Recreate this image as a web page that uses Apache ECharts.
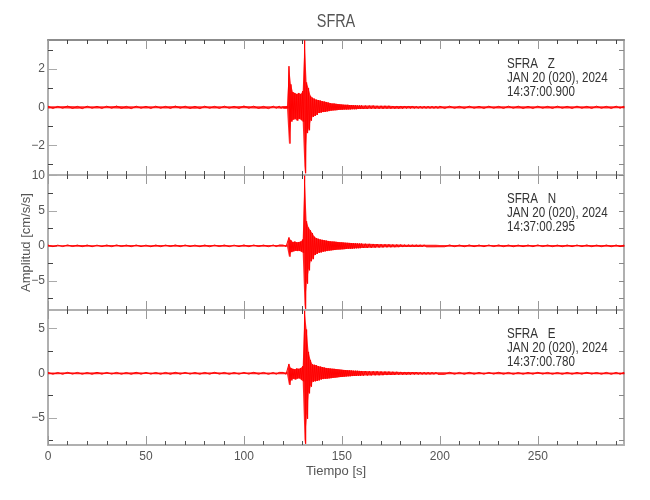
<!DOCTYPE html>
<html><head><meta charset="utf-8">
<script src="https://cdn.jsdelivr.net/npm/echarts@6/dist/echarts.min.js"></script>
<style>html,body{margin:0;padding:0;background:#fff}#c{width:650px;height:500px}</style>
</head><body><div id="c"></div>
<script>
// time knots (s)
const times = [0,5,10,15,20,25,30,35,40,45,50,55,60,65,70,75,80,85,90,95,100,105,110,115,118,
120,121,122,123,124,125,126,127,128,129,130,131,132,133,134,135,136,137,138,139,140,
141,142,143,144,145,146,147,148,149,150,151,152,153,154,155,156,157,158,159,160,
162,164,166,168,170,172,174,176,178,180,182,184,186,188,190,192,194,196,198,200,
205,210,215,220,225,230,235,240,245,250,255,260,265,270,275,280,285,290,294];

// Z component envelope (upper / lower peaks)
const zHi = [0.06,0.05,0.07,0.05,0.06,0.05,0.06,0.07,0.05,0.06,0.05,0.06,0.05,0.07,0.06,0.05,0.06,0.05,0.06,0.05,0.07,0.06,0.05,0.06,
0.06,
0.05,0.06,0.07,
2.15,1.2,0.8,0.75,0.7,0.75,0.7,0.85,
3.5,1.3,1.0,0.6,0.5,0.45,0.4,0.38,0.35,0.32,
0.3,0.28,0.25,0.22,0.2,0.2,0.18,0.17,0.16,0.15,
0.14,0.13,0.13,0.12,0.12,0.11,0.11,0.1,0.1,0.1,
0.09,0.09,0.09,0.08,0.08,0.08,0.08,0.07,0.07,0.07,0.07,0.07,0.07,0.06,0.06,0.06,0.06,0.06,0.06,0.06,
0.06,0.05,0.06,0.05,0.06,0.05,0.06,0.06,0.05,0.06,0.05,0.06,0.05,0.06,0.05,0.06,0.05,0.06,
0.06];
const zLo = [-0.06,-0.05,-0.06,-0.07,-0.05,-0.06,-0.05,-0.06,-0.07,-0.05,-0.06,-0.05,-0.06,-0.05,-0.06,-0.07,-0.05,-0.06,-0.05,-0.06,-0.05,-0.06,-0.07,-0.05,
-0.06,
-0.06,-0.07,-0.06,
-1.9,-0.75,-0.65,-0.6,-0.7,-0.6,-0.65,-0.75,
-3.45,-1.35,-1.2,-0.7,-0.5,-0.45,-0.4,-0.3,-0.28,-0.25,
-0.24,-0.22,-0.2,-0.18,-0.17,-0.16,-0.15,-0.14,-0.13,-0.13,
-0.12,-0.12,-0.11,-0.11,-0.1,-0.1,-0.1,-0.09,-0.09,-0.09,
-0.09,-0.08,-0.08,-0.08,-0.08,-0.07,-0.07,-0.07,-0.07,-0.07,-0.06,-0.06,-0.06,-0.06,-0.06,-0.06,-0.06,-0.06,-0.06,-0.06,
-0.05,-0.06,-0.05,-0.06,-0.05,-0.06,-0.05,-0.06,-0.06,-0.05,-0.06,-0.05,-0.06,-0.05,-0.06,-0.05,-0.06,-0.05,
-0.05];

// N component envelope
const nHi = [0.12,0.1,0.13,0.11,0.12,0.1,0.12,0.13,0.11,0.12,0.1,0.12,0.11,0.13,0.12,0.1,0.12,0.11,0.12,0.1,0.13,0.12,0.11,0.12,
0.12,
0.11,0.12,0.13,
1.2,0.8,0.55,0.6,0.5,0.55,0.6,0.9,
10.0,3.5,2.6,2.2,1.8,1.3,1.1,1.0,0.9,0.85,
0.8,0.75,0.7,0.65,0.62,0.6,0.57,0.55,0.52,0.5,
0.47,0.45,0.43,0.42,0.4,0.38,0.36,0.35,0.33,0.32,
0.3,0.28,0.27,0.25,0.24,0.22,0.21,0.2,0.19,0.18,0.17,0.17,0.16,0.16,0.15,0.15,0.14,0.14,0.14,0.13,
0.13,0.12,0.13,0.12,0.12,0.13,0.12,0.11,0.12,0.13,0.12,0.11,0.12,0.12,0.13,0.11,0.12,0.12,
0.12];
const nLo = [-0.12,-0.11,-0.1,-0.12,-0.13,-0.11,-0.12,-0.1,-0.12,-0.11,-0.13,-0.12,-0.1,-0.12,-0.11,-0.12,-0.13,-0.1,-0.12,-0.11,-0.12,-0.1,-0.12,-0.11,
-0.12,
-0.12,-0.11,-0.13,
-1.55,-0.9,-0.8,-0.7,-0.75,-0.7,-0.8,-1.0,
-9.0,-5.4,-3.5,-2.2,-1.9,-1.3,-1.15,-1.0,-0.95,-0.85,
-0.8,-0.75,-0.7,-0.66,-0.62,-0.6,-0.56,-0.54,-0.52,-0.5,
-0.47,-0.45,-0.43,-0.41,-0.4,-0.38,-0.36,-0.34,-0.33,-0.31,
-0.3,-0.28,-0.26,-0.25,-0.23,-0.22,-0.21,-0.2,-0.19,-0.18,-0.17,-0.17,-0.16,-0.15,-0.15,-0.14,-0.14,-0.14,-0.13,-0.13,
-0.12,-0.13,-0.12,-0.12,-0.11,-0.12,-0.13,-0.12,-0.12,-0.11,-0.12,-0.13,-0.12,-0.11,-0.12,-0.12,-0.13,-0.12,
-0.12];

// E component envelope
const eHi = [0.1,0.09,0.11,0.1,0.09,0.11,0.1,0.1,0.09,0.11,0.1,0.09,0.1,0.11,0.1,0.09,0.1,0.11,0.1,0.09,0.1,0.11,0.1,0.09,
0.1,
0.1,0.11,0.1,
1.05,0.6,0.5,0.45,0.55,0.5,0.6,0.8,
7.0,4.9,2.4,1.5,1.0,0.95,0.9,0.8,0.75,0.7,
0.65,0.6,0.58,0.55,0.52,0.5,0.47,0.45,0.42,0.4,
0.38,0.36,0.34,0.33,0.32,0.3,0.29,0.28,0.27,0.26,
0.25,0.24,0.23,0.22,0.21,0.2,0.19,0.18,0.17,0.16,0.15,0.15,0.14,0.14,0.13,0.13,0.12,0.12,0.12,0.11,
0.11,0.1,0.11,0.1,0.1,0.11,0.1,0.09,0.1,0.11,0.1,0.09,0.1,0.1,0.11,0.09,0.1,0.1,
0.1];
const eLo = [-0.1,-0.11,-0.09,-0.1,-0.11,-0.1,-0.09,-0.1,-0.11,-0.1,-0.09,-0.1,-0.11,-0.1,-0.09,-0.1,-0.1,-0.09,-0.11,-0.1,-0.09,-0.1,-0.11,-0.1,
-0.1,
-0.11,-0.1,-0.11,
-1.3,-0.8,-0.6,-0.7,-0.6,-0.55,-0.7,-0.9,
-7.9,-5.1,-2.25,-1.5,-0.95,-0.9,-0.85,-0.8,-0.7,-0.65,
-0.62,-0.6,-0.57,-0.55,-0.52,-0.5,-0.47,-0.44,-0.42,-0.4,
-0.38,-0.36,-0.34,-0.33,-0.31,-0.3,-0.29,-0.28,-0.27,-0.26,
-0.25,-0.24,-0.23,-0.22,-0.21,-0.2,-0.19,-0.18,-0.17,-0.16,-0.15,-0.15,-0.14,-0.14,-0.13,-0.13,-0.12,-0.12,-0.11,-0.11,
-0.1,-0.11,-0.1,-0.1,-0.09,-0.1,-0.11,-0.1,-0.1,-0.09,-0.1,-0.11,-0.1,-0.1,-0.09,-0.1,-0.11,-0.1,
-0.1];

const xMajor = [0,50,100,150,200,250];
const xMinor = [10,20,30,40,60,70,80,90,110,120,130,140,160,170,180,190,210,220,230,240,260,270,280,290];
const xRange = [0,294];
const yRanges = [[-3.54,3.52],[-9.15,10.1],[-8.03,7.09]];
const yMajor = [[-2,0,2],[-5,0,5,10],[-5,0,5]];
const yMinor = [[-3,-1,1,3],[-7.5,-2.5,2.5,7.5],[-7.5,-2.5,2.5]];
const yAll = [[-3,-2,-1,0,1,2,3],[-7.5,-5,-2.5,0,2.5,5,7.5,10],[-7.5,-5,-2.5,0,2.5,5]];
const chans = ['SFRA   Z','SFRA   N','SFRA   E'];
const dateText = 'JAN 20 (020), 2024';
const startTimes = ['14:37:00.900','14:37:00.295','14:37:00.780'];
const his = [zHi, nHi, eHi];
const los = [zLo, nLo, eLo];

const FONT = '"Liberation Sans",Arial,sans-serif';
const SPINE = '#b0b0b0';
const fmt = v => v < 0 ? '\u2212' + (-v) : String(v);

function zig(hi, lo) {
  const pts = [];
  for (let i = 0; i < times.length; i++) {
    const t = times[i];
    const nt = i < times.length - 1 ? times[i + 1] : t;
    pts.push([t, hi[i]]);
    pts.push([(t + nt) / 2, lo[i]]);
  }
  return pts;
}

const G_LEFT = 48, G_W = 576, G_TOP = 40, G_H = 135;
const grids = [], xAxes = [], yAxes = [], series = [], graphics = [];
for (let p = 0; p < 3; p++) {
  grids.push({left: G_LEFT, top: G_TOP + G_H * p, width: G_W, height: G_H, outerBoundsMode: 'none', containLabel: false});
  const last = p === 2;
  const baseX = {type: 'value', gridIndex: p, min: xRange[0], max: xRange[1], splitLine: {show: false}};
  xAxes.push(Object.assign({}, baseX, {
    position: 'bottom',
    axisLine: {show: true, onZero: false, lineStyle: {color: SPINE, width: 2}},
    axisTick: {show: true, inside: true, length: 9, customValues: xMajor, lineStyle: {color: '#999', width: 1}},
    axisLabel: {show: last, customValues: xMajor, margin: 6, color: '#555', fontSize: 12, fontFamily: FONT},
    name: last ? 'Tiempo [s]' : '', nameLocation: 'middle', nameGap: 20, nameMoveOverlap: false,
    nameTextStyle: {color: '#555', fontSize: 13, fontFamily: FONT}
  }));
  xAxes.push(Object.assign({}, baseX, {
    position: 'bottom', axisLine: {show: false, onZero: false},
    axisTick: {show: true, inside: true, length: 4, customValues: xMinor, lineStyle: {color: '#555', width: 1}},
    axisLabel: {show: false}
  }));
  xAxes.push(Object.assign({}, baseX, {
    position: 'top',
    axisLine: {show: true, onZero: false, lineStyle: {color: p === 0 ? '#8c8c8c' : SPINE, width: 2}},
    axisTick: {show: true, inside: true, length: 9, customValues: xMajor, lineStyle: {color: '#999', width: 1}},
    axisLabel: {show: false}
  }));
  xAxes.push(Object.assign({}, baseX, {
    position: 'top', axisLine: {show: false, onZero: false},
    axisTick: {show: true, inside: true, length: 4, customValues: xMinor, lineStyle: {color: '#444', width: 1}},
    axisLabel: {show: false}
  }));
  const baseY = {type: 'value', gridIndex: p, min: yRanges[p][0], max: yRanges[p][1], splitLine: {show: false}};
  yAxes.push(Object.assign({}, baseY, {
    position: 'left',
    axisLine: {show: true, onZero: false, lineStyle: {color: SPINE, width: 2}},
    axisTick: {show: true, inside: true, length: 9, customValues: yMajor[p], lineStyle: {color: '#aaa', width: 1}},
    axisLabel: {show: true, customValues: yMajor[p], margin: 3, color: '#555', fontSize: 12, fontFamily: FONT, formatter: fmt},
    name: p === 1 ? 'Amplitud [cm/s/s]' : '', nameLocation: 'middle', nameGap: 15, nameMoveOverlap: false,
    nameTextStyle: {color: '#555', fontSize: 13, fontFamily: FONT}
  }));
  yAxes.push(Object.assign({}, baseY, {
    position: 'left', axisLine: {show: false, onZero: false},
    axisTick: {show: true, inside: true, length: 5, customValues: yMinor[p], lineStyle: {color: '#444', width: 1}},
    axisLabel: {show: false}
  }));
  yAxes.push(Object.assign({}, baseY, {
    position: 'right',
    axisLine: {show: true, onZero: false, lineStyle: {color: SPINE, width: 2}},
    axisTick: {show: true, inside: true, length: 5, customValues: yAll[p], lineStyle: {color: '#888', width: 1}},
    axisLabel: {show: false}
  }));
  const hi = his[p], lo = los[p];
  // filled envelope band
  series.push({
    type: 'custom', xAxisIndex: 4 * p, yAxisIndex: 3 * p, data: [[0, 0]], silent: true, z: 1, clip: true,
    renderItem: function (params, api) {
      const pts = [];
      for (let i = 0; i < times.length; i++) pts.push(api.coord([times[i], hi[i]]));
      for (let i = times.length - 1; i >= 0; i--) pts.push(api.coord([times[i], lo[i]]));
      return {type: 'polygon', shape: {points: pts}, style: {fill: 'rgba(255,0,0,0.85)', stroke: null}};
    }
  });
  // oscillating trace
  series.push({
    type: 'line', xAxisIndex: 4 * p, yAxisIndex: 3 * p, z: 2,
    data: zig(hi, lo), showSymbol: false, symbol: 'none',
    lineStyle: {color: '#ff0000', width: 1}, sampling: null, clip: true
  });
  graphics.push({
    type: 'text', x: 507, y: G_TOP + G_H * p + 17, scaleX: 0.83, z: 10,
    style: {text: chans[p] + '\n' + dateText + '\n' + startTimes[p], font: '14px ' + FONT, fill: '#333', lineHeight: 14, verticalAlign: 'top', align: 'left'}
  });
}
graphics.push({
  type: 'text', x: 336, y: 22, scaleX: 0.76, z: 10,
  style: {text: 'SFRA', font: '19px ' + FONT, fill: '#555', align: 'center', verticalAlign: 'middle'}
});

const chart = echarts.init(document.getElementById('c'), null, {renderer: 'canvas'});
chart.setOption({
  animation: false,
  backgroundColor: '#fff',
  grid: grids, xAxis: xAxes, yAxis: yAxes, series: series, graphic: graphics
});
</script></body></html>
